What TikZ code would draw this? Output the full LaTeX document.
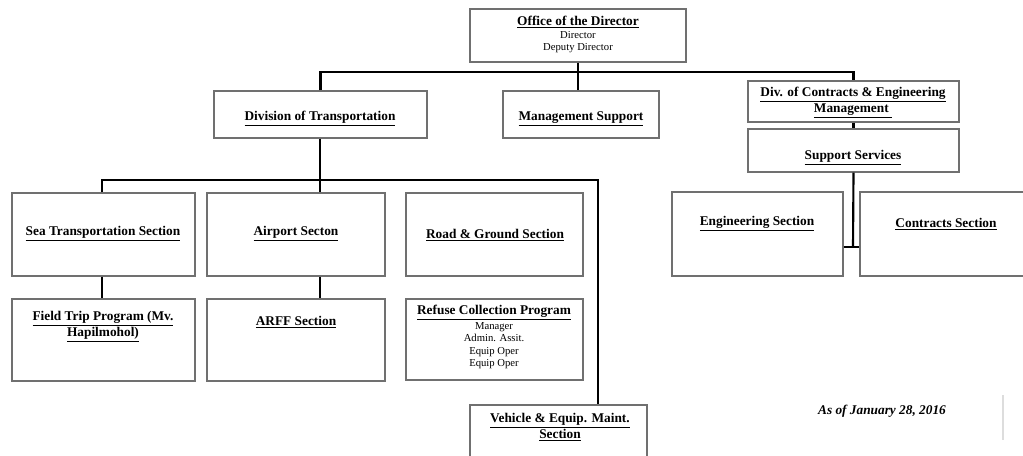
\documentclass[tikz,border=0pt]{standalone}
\usepackage{fontspec}
\setmainfont{Liberation Serif}
\usetikzlibrary{fit}
\newcommand{\myul}[1]{\underline{#1}}
\definecolor{boxgray}{HTML}{707070}
\definecolor{faint}{HTML}{DDDDDD}
\tikzset{
  box/.style={draw=boxgray, line width=0.8pt, inner sep=0pt, fill=white},
  conn/.style={line width=1.6pt, draw=black},
  ttl/.style={font=\fontsize{10}{12}\selectfont\bfseries, align=center, inner sep=0pt},
  sub/.style={font=\fontsize{8}{9.4}\selectfont, align=center, inner sep=0pt},
  datetxt/.style={font=\fontsize{10}{12}\selectfont\bfseries\itshape, inner sep=0pt},
}
\begin{document}
\begin{tikzpicture}[x=0.75pt,y=-0.75pt]
\useasboundingbox (0,0) rectangle (1023,456);
\clip (0,0) rectangle (1023,456);
% boxes
\node[box, fit={(470,9)(686,62)}] (dir) {};
\node[box, fit={(214,91)(427,138)}] (trans) {};
\node[box, fit={(503,91)(659,138)}] (mgmt) {};
\node[box, fit={(748,81)(959,122)}] (cont) {};
\node[box, fit={(748,129)(959,172)}] (supp) {};
\node[box, fit={(12,193)(195,276)}] (sea) {};
\node[box, fit={(207,193)(385,276)}] (air) {};
\node[box, fit={(406,193)(583,276)}] (road) {};
\node[box, fit={(672,192)(843,276)}] (eng) {};
\node[box, fit={(860,192)(1032,276)}] (contr) {};
\node[box, fit={(12,299)(195,381)}] (field) {};
\node[box, fit={(207,299)(385,381)}] (arff) {};
\node[box, fit={(406,299)(583,380)}] (refuse) {};
\node[box, fit={(470,405)(647,480)}] (veh) {};
% texts
\node[ttl] (dirT) at (578,22) {\myul{Office of the Director}};
\node[sub, anchor=north] (dirS) at (578,31) {Director\\Deputy Director};
\node[ttl] (transT) at (320,119) {\myul{Division of Transportation}};
\node[ttl] (mgmtT) at (581,119) {\myul{Management Support}};
\node[ttl] (contT) at (853,103) {\myul{Div. of Contracts \& Engineering}\\\myul{Management\ }};
\node[ttl] (suppT) at (853,158) {\myul{Support Services}};
\node[ttl] (seaT) at (103,234) {\myul{Sea Transportation Section}};
\node[ttl] (airT) at (296,234) {\myul{Airport Secton}};
\node[ttl] (roadT) at (495,235) {\myul{Road \& Ground Section}};
\node[ttl] (engT) at (757,224) {\myul{Engineering Section}};
\node[ttl] (contrT) at (946,224) {\myul{Contracts Section}};
\node[ttl] (fieldT) at (103,327) {\myul{Field Trip Program (Mv.}\\\myul{Hapilmohol)}};
\node[ttl] (arffT) at (296,322) {\myul{ARFF Section}};
\node[ttl] (refT) at (494,313) {\myul{Refuse Collection Program}};
\node[sub, anchor=north] (refS) at (494,322) {Manager\\Admin. Assit.\\Equip Oper\\Equip Oper};
\node[ttl] (vehT) at (560,427) {\myul{Vehicle \& Equip. Maint.}\\\myul{Section}};
\node[datetxt] (date) at (882,411) {As of January 28, 2016};
% junction points
\coordinate (busA) at (578,72);
\coordinate (busB) at (320,180);
\coordinate (vj) at (598,180);
\coordinate (sj) at (853,247);
\coordinate (seaX) at (102,0);
% connectors
\draw[conn] (dir.south) -- (busA);
\draw[conn] (trans.north) |- (busA) -| (cont.north);
\draw[conn] (busA) -- (mgmt.north -| busA);
\draw[conn] (cont.south) -- (supp.north);
\draw[conn] (supp.south) -- (sj);
\draw[conn] (eng.east |- sj) -- (contr.west |- sj);
\draw[conn] (trans.south -| busB) -- (busB);
\draw[conn] (sea.north -| seaX) |- (busB) -- (vj) -- (veh.north -| vj);
\draw[conn] (busB) -- (air.north -| busB);
\draw[conn] (air.south -| busB) -- (arff.north -| busB);
\draw[conn] (sea.south -| seaX) -- (field.north -| seaX);
% faint mark at right
\draw[faint, line width=0.8pt] (1003,395) -- (1003,440);
\end{tikzpicture}
\end{document}
